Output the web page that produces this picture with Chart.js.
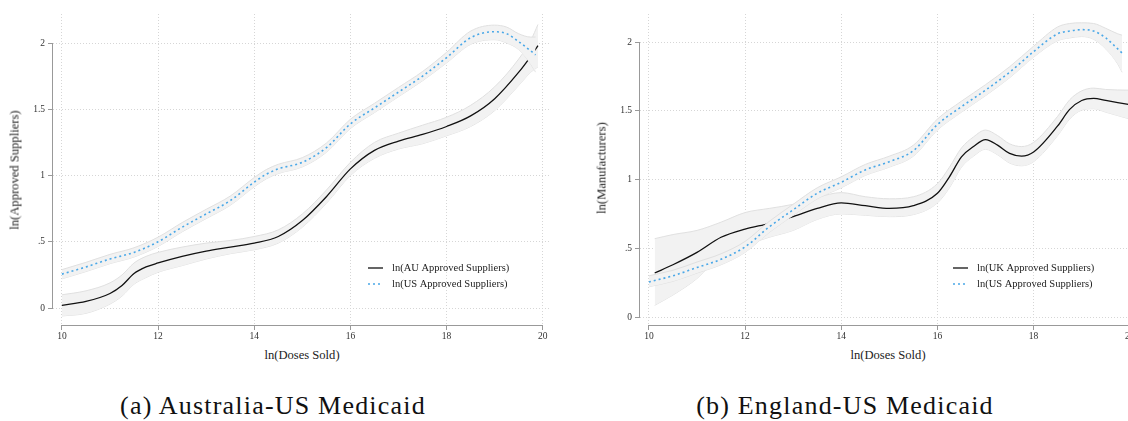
<!DOCTYPE html>
<html>
<head>
<meta charset="utf-8">
<script src="https://cdn.jsdelivr.net/npm/chart.js@4.4.0/dist/chart.umd.min.js"></script>
<style>
html, body { margin: 0; padding: 0; background: #fff; overflow: hidden; }
.wrap { position: relative; width: 1128px; height: 421px; overflow: hidden; font-family: "Liberation Serif", "Times New Roman", serif; color: #222; }
canvas { position: absolute; top: 0; }
#auChart { left: 0; }
#ukChart { left: 585px; }
.ytitle { position: absolute; font-size: 12.6px; transform: translate(-50%, -50%) rotate(-90deg); white-space: nowrap; }
.xtitle { position: absolute; font-size: 12.6px; transform: translate(-50%, -50%); white-space: nowrap; }
.caption { position: absolute; font-size: 26px; letter-spacing: 1.2px; transform: translateX(-50%); white-space: nowrap; color: #111; }
</style>
</head>
<body>
<div class="wrap">
  <canvas id="auChart" width="560" height="345"></canvas>
  <canvas id="ukChart" width="562" height="345"></canvas>
  <div class="ytitle" style="left:15px; top:170px;">ln(Approved Suppliers)</div>
  <div class="ytitle" style="left:602px; top:168px;">ln(Manufacturers)</div>
  <div class="xtitle" style="left:302px; top:355px;">ln(Doses Sold)</div>
  <div class="xtitle" style="left:888px; top:355px;">ln(Doses Sold)</div>
  <div class="caption" style="left:273px; top:391px;">(a) Australia-US Medicaid</div>
  <div class="caption" style="left:845px; top:391px;">(b) England-US Medicaid</div>
</div>
<script>
// axis ticks shared by both panels
const xTicks = [10, 12, 14, 16, 18, 20];
const yTicks = [0, 0.5, 1, 1.5, 2];
const yTickLabels = ['0', '.5', '1', '1.5', '2'];

// (a) Australia vs US
const auX     = [10, 10.5, 11, 11.25, 11.5, 11.75, 12, 12.5, 13, 13.5, 14, 14.5, 15, 15.5, 16, 16.5, 17, 17.5, 18, 18.5, 19, 19.5, 19.75, 19.9];
const auLine  = [0.02, 0.05, 0.11, 0.17, 0.26, 0.31, 0.34, 0.39, 0.43, 0.46, 0.49, 0.54, 0.66, 0.84, 1.05, 1.19, 1.26, 1.31, 1.37, 1.45, 1.58, 1.78, 1.90, 1.98];
const auUpper = [0.10, 0.13, 0.19, 0.25, 0.34, 0.39, 0.42, 0.46, 0.49, 0.51, 0.54, 0.59, 0.71, 0.89, 1.10, 1.25, 1.32, 1.38, 1.44, 1.53, 1.67, 1.88, 2.02, 2.14];
const auLower = [-0.06, -0.04, 0.03, 0.09, 0.18, 0.23, 0.27, 0.32, 0.37, 0.41, 0.44, 0.49, 0.61, 0.79, 1.00, 1.13, 1.20, 1.24, 1.30, 1.37, 1.49, 1.68, 1.78, 1.82];

const usAX     = [10, 10.5, 11, 11.5, 12, 12.5, 13, 13.5, 14, 14.25, 14.5, 15, 15.5, 16, 16.5, 17, 17.5, 18, 18.5, 19, 19.25, 19.5, 19.75, 19.85];
const usALine  = [0.256, 0.31, 0.37, 0.42, 0.50, 0.61, 0.71, 0.81, 0.95, 1.01, 1.05, 1.10, 1.21, 1.39, 1.51, 1.63, 1.75, 1.89, 2.04, 2.085, 2.07, 2.01, 1.94, 1.91];
const usAUpper = [0.29, 0.345, 0.405, 0.455, 0.535, 0.645, 0.745, 0.845, 0.985, 1.045, 1.085, 1.135, 1.245, 1.425, 1.545, 1.665, 1.785, 1.93, 2.09, 2.135, 2.12, 2.07, 2.045, 2.045];
const usALower = [0.22, 0.275, 0.335, 0.385, 0.465, 0.575, 0.675, 0.775, 0.915, 0.975, 1.015, 1.065, 1.175, 1.355, 1.475, 1.595, 1.715, 1.85, 1.99, 2.025, 2.0, 1.95, 1.84, 1.78];

// (b) England vs US
const ukX     = [10.12, 10.5, 11, 11.5, 12, 12.5, 13, 13.5, 14, 14.5, 15, 15.5, 16, 16.25, 16.5, 16.75, 17, 17.25, 17.5, 17.75, 18, 18.5, 18.75, 19, 19.25, 19.5, 20];
const ukLine  = [0.32, 0.38, 0.47, 0.58, 0.64, 0.68, 0.73, 0.79, 0.83, 0.81, 0.79, 0.81, 0.90, 1.02, 1.165, 1.24, 1.29, 1.25, 1.19, 1.17, 1.20, 1.39, 1.51, 1.575, 1.59, 1.575, 1.545];
const ukUpper = [0.57, 0.60, 0.63, 0.69, 0.76, 0.79, 0.82, 0.87, 0.905, 0.875, 0.86, 0.875, 0.97, 1.09, 1.23, 1.31, 1.36, 1.32, 1.26, 1.24, 1.27, 1.46, 1.58, 1.645, 1.665, 1.655, 1.65];
const ukLower = [0.085, 0.16, 0.28, 0.45, 0.52, 0.58, 0.63, 0.71, 0.75, 0.74, 0.73, 0.745, 0.83, 0.94, 1.09, 1.17, 1.22, 1.18, 1.12, 1.10, 1.13, 1.32, 1.44, 1.505, 1.515, 1.49, 1.44];

const usBX     = [10, 10.5, 11, 11.5, 12, 12.5, 13, 13.5, 14, 14.5, 15, 15.5, 16, 16.5, 17, 17.5, 18, 18.5, 18.75, 19, 19.25, 19.5, 19.75, 19.84];
const usBLine  = [0.255, 0.30, 0.36, 0.42, 0.51, 0.655, 0.78, 0.90, 0.98, 1.07, 1.13, 1.21, 1.40, 1.53, 1.65, 1.78, 1.93, 2.06, 2.08, 2.09, 2.08, 2.03, 1.95, 1.92];
const usBUpper = [0.30, 0.34, 0.40, 0.46, 0.55, 0.695, 0.82, 0.94, 1.02, 1.11, 1.17, 1.25, 1.44, 1.57, 1.69, 1.82, 1.97, 2.11, 2.135, 2.14, 2.135, 2.10, 2.06, 2.05];
const usBLower = [0.22, 0.26, 0.32, 0.38, 0.47, 0.615, 0.74, 0.86, 0.94, 1.03, 1.09, 1.17, 1.36, 1.49, 1.61, 1.74, 1.89, 2.01, 2.03, 2.04, 2.02, 1.95, 1.84, 1.78];

const BLUE = '#4aa8e8';
const BAND = '#f2f2f2';
const BAND_EDGE = '#e0e0e0';
const FONT = 'Liberation Serif';

const pts = (xs, ys) => xs.map((x, i) => ({ x: x, y: ys[i] }));

// draws the legend box inside the plot and the axis lines over the tick range only
const insideLegend = {
  id: 'insideLegend',
  afterDraw(chart, args, opts) {
    const ctx = chart.ctx;
    const xs = chart.scales.x, ys = chart.scales.y;
    ctx.save();
    ctx.strokeStyle = '#999';
    ctx.lineWidth = 1;
    ctx.setLineDash([]);
    ctx.beginPath();
    const bx = Math.round(chart.chartArea.bottom) + 0.5;
    ctx.moveTo(xs.getPixelForValue(xTicks[0]), bx);
    ctx.lineTo(xs.getPixelForValue(xTicks[xTicks.length - 1]), bx);
    const lx = Math.round(chart.chartArea.left) - 0.5;
    ctx.moveTo(lx, ys.getPixelForValue(yTicks[0]));
    ctx.lineTo(lx, ys.getPixelForValue(yTicks[yTicks.length - 1]));
    ctx.stroke();

    ctx.font = '10.5px "' + FONT + '"';
    ctx.textBaseline = 'middle';
    opts.items.forEach((it, i) => {
      const y = opts.y + i * 16;
      ctx.strokeStyle = it.color;
      ctx.lineWidth = it.width;
      ctx.setLineDash(it.dash);
      ctx.beginPath();
      ctx.moveTo(opts.x, y);
      ctx.lineTo(opts.x + 15, y);
      ctx.stroke();
      ctx.fillStyle = '#222';
      ctx.fillText(it.label, opts.x + 24, y);
    });
    ctx.restore();
  }
};

function band(xs, up, lo, order) {
  return [
    { data: pts(xs, up), fill: '+1', backgroundColor: BAND, borderColor: BAND_EDGE, borderWidth: 1, order: order },
    { data: pts(xs, lo), fill: false, borderColor: BAND_EDGE, borderWidth: 1, order: order }
  ];
}

function makeChart(id, cfg) {
  new Chart(document.getElementById(id), {
    type: 'line',
    data: {
      datasets: [
        { data: pts(cfg.usX, cfg.usLine), borderColor: BLUE, borderWidth: 1.6, borderDash: [2, 3], fill: false, order: 1 },
        ...band(cfg.usX, cfg.usUpper, cfg.usLower, 2),
        { data: pts(cfg.localX, cfg.localLine), borderColor: '#111', borderWidth: 1.3, fill: false, order: 3 },
        ...band(cfg.localX, cfg.localUpper, cfg.localLower, 4)
      ]
    },
    options: {
      responsive: false,
      animation: false,
      devicePixelRatio: 1,
      layout: { padding: { left: 0, right: 10, top: 14, bottom: 0 } },
      elements: {
        point: { radius: 0, hoverRadius: 0 },
        line: { cubicInterpolationMode: 'monotone' }
      },
      scales: {
        x: {
          type: 'linear',
          min: 9.815,
          max: 20.15,
          afterBuildTicks: s => { s.ticks = xTicks.map(v => ({ value: v })); },
          afterFit: s => { s.height = 20; },
          grid: { color: '#d6d6d6', lineWidth: 1, tickLength: 5, tickColor: '#999', tickBorderDash: [] },
          border: { display: false, dash: [1, 2] },
          ticks: { font: { family: FONT, size: 9.5 }, color: '#333', padding: 1, maxRotation: 0, callback: v => String(v) }
        },
        y: {
          type: 'linear',
          min: cfg.yMin,
          max: cfg.yMax,
          afterBuildTicks: s => { s.ticks = yTicks.map(v => ({ value: v })); },
          afterFit: s => { s.width = cfg.yWidth; },
          grid: { color: '#d6d6d6', lineWidth: 1, tickLength: 5, tickColor: '#999', tickBorderDash: [] },
          border: { display: false, dash: [1, 2] },
          ticks: { font: { family: FONT, size: 9.5 }, color: '#333', padding: 3, callback: v => yTickLabels[yTicks.indexOf(v)] }
        }
      },
      plugins: {
        legend: { display: false },
        tooltip: { enabled: false },
        insideLegend: {
          x: 368,
          y: 268,
          items: [
            { label: cfg.localLabel, color: '#111', width: 1.3, dash: [] },
            { label: 'ln(US Approved Suppliers)', color: BLUE, width: 1.4, dash: [2, 3] }
          ]
        }
      }
    },
    plugins: [insideLegend]
  });
}

makeChart('auChart', {
  localX: auX, localLine: auLine, localUpper: auUpper, localLower: auLower,
  usX: usAX, usLine: usALine, usUpper: usAUpper, usLower: usALower,
  localLabel: 'ln(AU Approved Suppliers)',
  yMin: -0.128, yMax: 2.219, yWidth: 53
});

makeChart('ukChart', {
  localX: ukX, localLine: ukLine, localUpper: ukUpper, localLower: ukLower,
  usX: usBX, usLine: usBLine, usUpper: usBUpper, usLower: usBLower,
  localLabel: 'ln(UK Approved Suppliers)',
  yMin: -0.058, yMax: 2.204, yWidth: 55
});
</script>
</body>
</html>
